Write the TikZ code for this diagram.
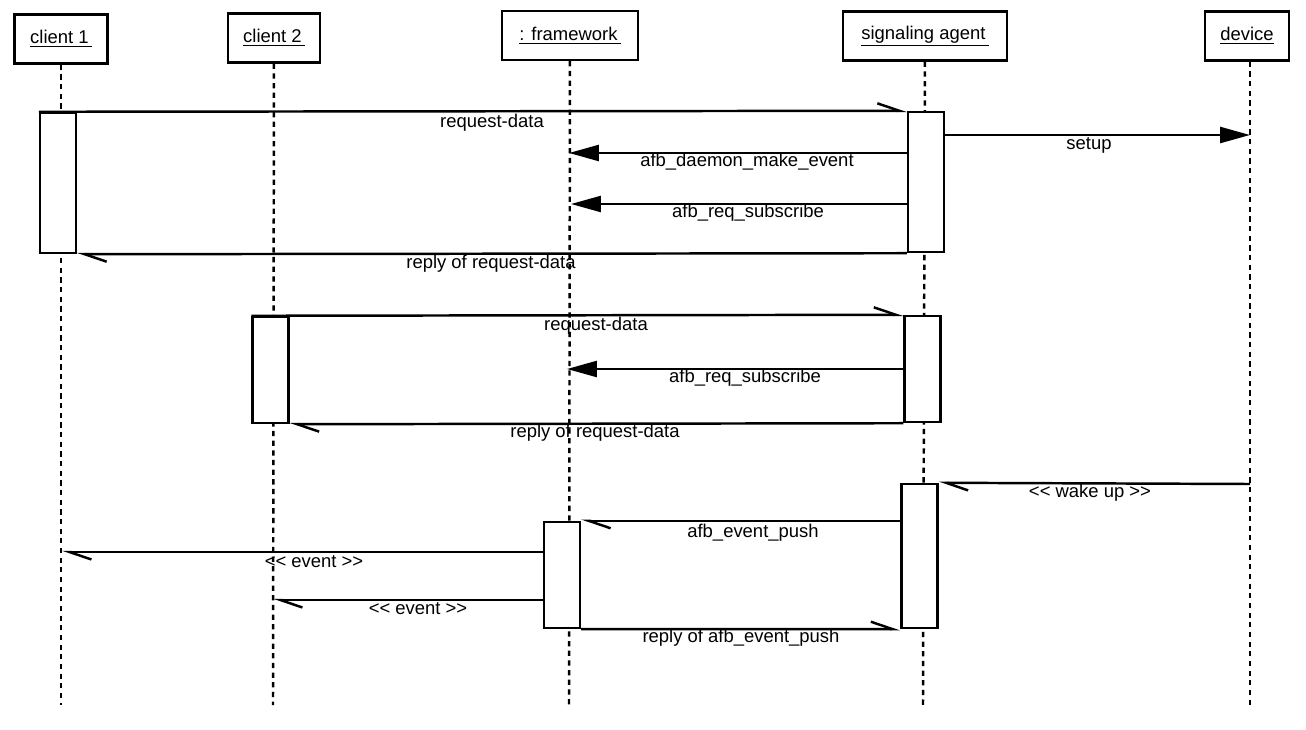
\documentclass[tikz,border=0pt]{standalone}
\usepackage{fontspec}
\setmainfont{Liberation Sans}
\usetikzlibrary{arrows.meta}

\tikzset{
	head/.style={draw,line width=1.4pt,minimum height=0.98cm,inner sep=0pt,font=\fontsize{10.5}{12}\selectfont},
	act/.style={draw,fill=white,line width=1.4pt,minimum width=0.72cm,inner sep=0pt},
	life/.style={line width=1.4pt,dash pattern=on 3pt off 2.5pt},
	msg/.style={line width=1.4pt,-{Triangle[length=0.6cm,width=0.32cm]}},
	half/.style={line width=1.4pt,-{Straight Barb[left,length=0.44cm,width=0.3cm,line cap=butt]}},
	lbl/.style={font=\fontsize{10.5}{12}\selectfont,inner sep=0pt}
}

\begin{document}
\begin{tikzpicture}[x=0.02cm,y=-0.02cm]
	\useasboundingbox (0,0) rectangle (1306,730);
	% heads
	\node[head,minimum width=1.86cm] (c1) at (61,39) {\underline{client 1\,}};
	\node[head,minimum width=1.84cm] (c2) at (274,38) {\underline{client 2\,}};
	\node[head,minimum width=2.72cm] (fw) at (570,35.5) {\underline{: framework\,}};
	\node[head,minimum width=3.28cm] (sig) at (925,36) {\underline{signaling agent\,}};
	\node[head,minimum width=1.68cm] (dev) at (1247,36) {\underline{device}};
	% lifelines
	\coordinate (c1e) at (61,705);
	\coordinate (c2e) at (273,705);
	\coordinate (fwe) at (569,705);
	\coordinate (sige) at (923,705);
	\coordinate (deve) at (1250,705);
	\draw[life] (c1) -- (c1e);
	\draw[life] (c2) -- (c2e);
	\draw[life] (fw) -- (fwe);
	\draw[life] (sig) -- (sige);
	\draw[life] (dev.south -| deve) -- (deve);
	% activations
	\node[act,minimum height=2.8cm] (a1) at (58,183) {};
	\node[act,minimum height=2.8cm] (s1) at (926,182) {};
	\node[act,minimum height=2.12cm] (a2) at (270.5,370) {};
	\node[act,minimum height=2.12cm] (s2) at (922.5,369) {};
	\node[act,minimum height=2.88cm] (s3) at (919.5,556) {};
	\node[act,minimum height=2.12cm] (f3) at (562,575) {};
	% first request
	\draw[half] (a1.north west) -- (s1.north west);
	\node[lbl] (l1) at (492,123) {request-data};
	\coordinate (d1) at (1250,135);
	\draw[msg] (s1.east |- d1) -- (d1);
	\node[lbl] (l2) at (1089,145) {setup};
	\coordinate (f1) at (569,153);
	\draw[msg] (s1.west |- f1) -- (f1);
	\node[lbl] (l3) at (747,162) {afb\_daemon\_make\_event};
	\coordinate (f2) at (571,204);
	\draw[msg] (s1.west |- f2) -- (f2);
	\node[lbl] (l4) at (748,213) {afb\_req\_subscribe};
	\draw[half] (s1.south west) -- (a1.south east);
	\node[lbl] (l5) at (491,264) {reply of request-data};
	% second request
	\draw[half] (a2.north west) -- (s2.north west);
	\node[lbl] (l6) at (596,326) {request-data};
	\coordinate (f4) at (567,369);
	\draw[msg] (s2.west |- f4) -- (f4);
	\node[lbl] (l7) at (745,378) {afb\_req\_subscribe};
	\draw[half] (s2.south west) -- (a2.south east);
	\node[lbl] (l8) at (595,433) {reply of request-data};
	% event
	\coordinate (d2) at (1250,484);
	\draw[half] (d2) -- (s3.north east);
	\node[lbl] (l9) at (1090,493) {{<}{<} wake up {>}{>}};
	\draw[half] (s3.west |- f3.north) -- (f3.north east);
	\node[lbl] (l10) at (753,533) {afb\_event\_push};
	\coordinate (e1) at (62,552);
	\draw[half] (f3.west |- e1) -- (e1);
	\node[lbl] (l11) at (314,562) {{<}{<} event {>}{>}};
	\coordinate (e2) at (273,600);
	\draw[half] (f3.west |- e2) -- (e2);
	\node[lbl] (l12) at (418,609) {{<}{<} event {>}{>}};
	\draw[half] (f3.south east) -- (s3.south west);
	\node[lbl] (l13) at (741,638) {reply of afb\_event\_push};
\end{tikzpicture}
\end{document}
